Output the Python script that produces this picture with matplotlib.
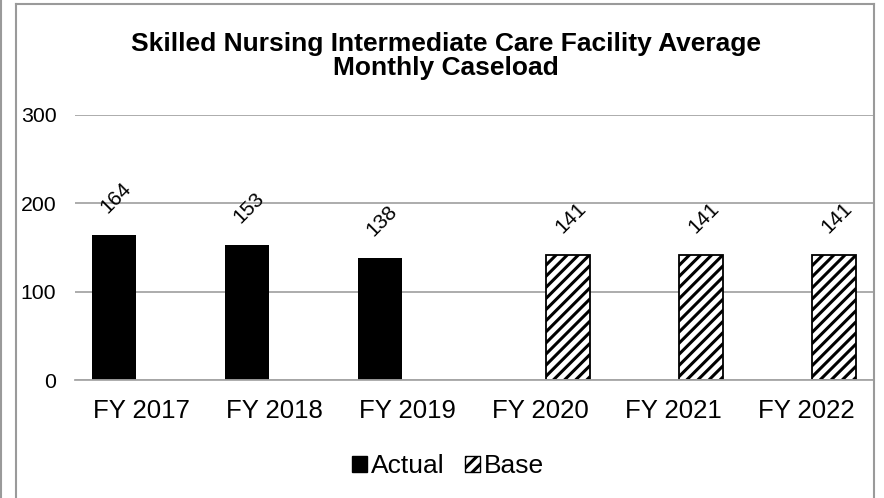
import matplotlib
matplotlib.use("Agg")
import matplotlib.pyplot as plt
import numpy as np
from matplotlib.lines import Line2D
from matplotlib.patches import Patch

plt.rcParams['font.family'] = ['Liberation Sans', 'DejaVu Sans']
plt.rcParams['hatch.linewidth'] = 2.2

categories = ['FY 2017', 'FY 2018', 'FY 2019', 'FY 2020', 'FY 2021', 'FY 2022']
actual = [164, 153, 138, np.nan, np.nan, np.nan]
base = [np.nan, np.nan, np.nan, 141, 141, 141]
yticks = [0, 100, 200, 300]
title = 'Skilled Nursing Intermediate Care Facility Average\nMonthly Caseload'

W, H = 884, 498
fig = plt.figure(figsize=(W / 100, H / 100), dpi=100)
ax = fig.add_axes([75 / W, 118 / H, (873 - 75) / W, (380 - 115) / H])

x = np.arange(len(categories))
off = 0.21
ax.bar(x - off, actual, width=0.33, color='black', label='Actual')
ax.bar(x + off, base, width=0.33, color='white', edgecolor='black',
       hatch='///', linewidth=1.3, label='Base')

for xi, v in zip(x - off, actual):
    if not np.isnan(v):
        ax.annotate(f'{v:.0f}', (xi, v), xytext=(1.5, 27), textcoords='offset points',
                    rotation=45, ha='center', va='center', fontsize=15)
for xi, v in zip(x + off, base):
    if not np.isnan(v):
        ax.annotate(f'{v:.0f}', (xi, v), xytext=(1.5, 27), textcoords='offset points',
                    rotation=45, ha='center', va='center', fontsize=15)

ax.set_xlim(-0.5, len(categories) - 0.5)
ax.set_ylim(0, 300)
ax.set_yticks(yticks)
ax.set_xticks(x)
ax.set_xticklabels(categories, fontsize=18.5)
ax.tick_params(axis='y', labelsize=15.3, length=0, pad=13.5)
ax.tick_params(axis='x', length=0, pad=14)
ax.grid(axis='y', color='#A6A6A6', linewidth=1.3)
ax.set_axisbelow(True)
for s in ['top', 'right', 'left']:
    ax.spines[s].set_visible(False)
ax.spines['bottom'].set_color('#A6A6A6')
ax.spines['bottom'].set_linewidth(1.3)

handles = [Patch(facecolor='black', edgecolor='black', label='Actual'),
           Patch(facecolor='white', edgecolor='black', hatch='///', label='Base')]
fig.legend(handles=handles, loc='center', bbox_to_anchor=(448 / W, 1 - 466 / H),
           ncol=2, frameon=False, fontsize=19, handlelength=0.55, handleheight=0.55,
           handletextpad=0.15, columnspacing=0.8)

fig.text(446 / W, 1 - 56 / H, title, ha='center', va='center', fontsize=19,
         fontweight='bold', linespacing=1.0)

frame_col = '#9A9A9A'
fig.add_artist(Line2D([16 / W, 16 / W], [0, 1 - 4 / H], color=frame_col, lw=1.5))
fig.add_artist(Line2D([873.5 / W, 873.5 / W], [0, 1 - 4 / H], color=frame_col, lw=1.5))
fig.add_artist(Line2D([16 / W, 873.5 / W], [1 - 4 / H, 1 - 4 / H], color=frame_col, lw=1.5))
fig.add_artist(Line2D([1 / W, 1 / W], [0, 1], color=frame_col, lw=1.5))

fig.savefig('out.png', dpi=100)
